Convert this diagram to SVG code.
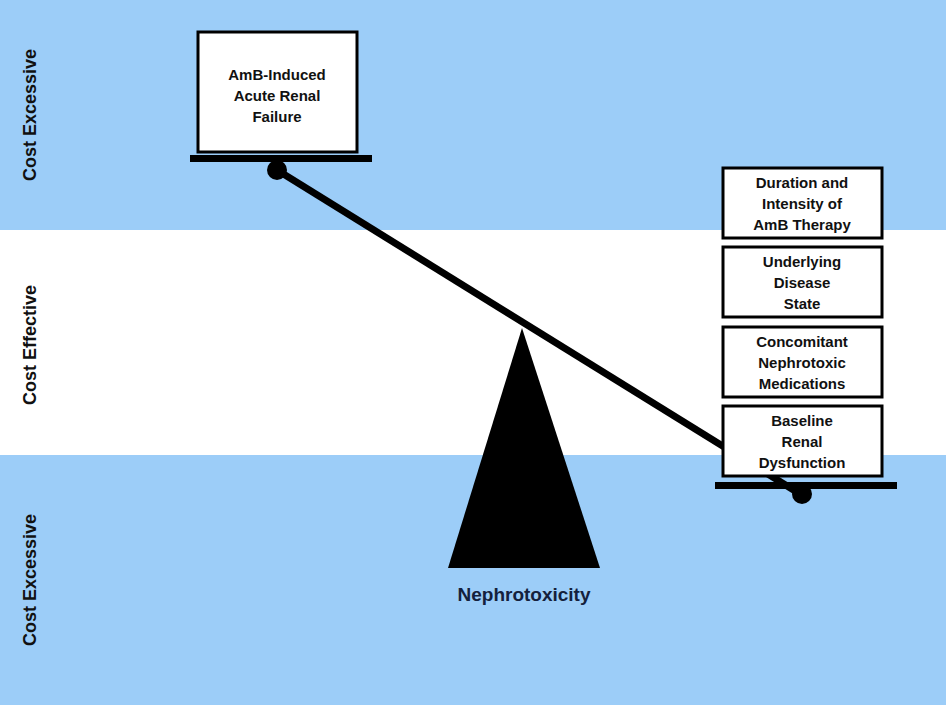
<svg xmlns="http://www.w3.org/2000/svg" width="946" height="705" viewBox="0 0 946 705">
<style>
.box{fill:#fff;stroke:#000;stroke-width:3}
.t{font-family:"Liberation Sans",Arial,sans-serif;font-weight:bold;font-size:15px;fill:#111;text-anchor:middle}
.side{font-family:"Liberation Sans",Arial,sans-serif;font-weight:bold;font-size:18px;fill:#111;text-anchor:middle}
.bar{fill:#000}
</style>
<rect x="0" y="0" width="946" height="230" fill="#9ccdf8"/>
<rect x="0" y="230" width="946" height="225" fill="#ffffff"/>
<rect x="0" y="455" width="946" height="250" fill="#9ccdf8"/>
<g id="labels">
<text class="side" transform="translate(36,115) rotate(-90)">Cost Excessive</text>
<text class="side" transform="translate(36,345) rotate(-90)">Cost Effective</text>
<text class="side" transform="translate(36,580) rotate(-90)">Cost Excessive</text>
</g>
<g id="connectors">
<line x1="277" y1="170" x2="800" y2="494" stroke="#000" stroke-width="7"/>
</g>
<g id="fulcrum">
<polygon points="522,328 448,568 600,568" fill="#000"/>
<text class="t" x="524" y="601" style="font-size:19px;fill:#14213d">Nephrotoxicity</text>
</g>
<g id="left-pan">
<circle cx="277" cy="170" r="10" fill="#000"/>
<rect class="box" x="198" y="32" width="159" height="120"/>
<text class="t" x="277" y="80">AmB-Induced</text>
<text class="t" x="277" y="101">Acute Renal</text>
<text class="t" x="277" y="122">Failure</text>
<rect class="bar" x="190" y="155" width="182" height="7"/>
</g>
<g id="right-pan">
<circle cx="802" cy="494" r="10" fill="#000"/>
<rect class="bar" x="715" y="482" width="182" height="7"/>
</g>
<g id="box-duration">
<rect class="box" x="723" y="168" width="159" height="70"/>
<text class="t" x="802" y="188">Duration and</text>
<text class="t" x="802" y="209">Intensity of</text>
<text class="t" x="802" y="230">AmB Therapy</text>
</g>
<g id="box-disease">
<rect class="box" x="723" y="247" width="159" height="70"/>
<text class="t" x="802" y="267">Underlying</text>
<text class="t" x="802" y="288">Disease</text>
<text class="t" x="802" y="309">State</text>
</g>
<g id="box-medications">
<rect class="box" x="723" y="327" width="159" height="70"/>
<text class="t" x="802" y="347">Concomitant</text>
<text class="t" x="802" y="368">Nephrotoxic</text>
<text class="t" x="802" y="389">Medications</text>
</g>
<g id="box-baseline">
<rect class="box" x="723" y="406" width="159" height="70"/>
<text class="t" x="802" y="426">Baseline</text>
<text class="t" x="802" y="447">Renal</text>
<text class="t" x="802" y="468">Dysfunction</text>
</g>
</svg>
